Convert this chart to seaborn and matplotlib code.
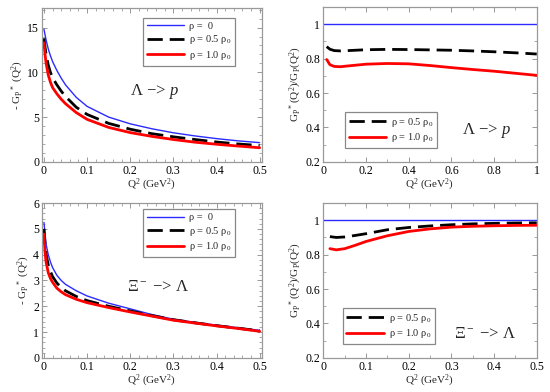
import numpy as np
import pandas as pd
import matplotlib
matplotlib.use('Agg')
import matplotlib.pyplot as plt
from matplotlib.ticker import MultipleLocator, FormatStrFormatter
import seaborn as sns

# Lambda -> p, -G_P*(Q^2)
q2_lp = [0.0, 0.0025, 0.005, 0.01, 0.015, 0.02, 0.03, 0.04, 0.05, 0.075, 0.1, 0.15, 0.2, 0.25, 0.3, 0.35, 0.4, 0.45, 0.5]
gp_lp_rho0 = [14.8, 14.2, 13.6, 12.6, 11.85, 11.2, 10.2, 9.35, 8.6, 7.2, 6.2, 5.0, 4.25, 3.7, 3.25, 2.9, 2.6, 2.35, 2.15]
gp_lp_rho05 = [13.8, 12.8, 12.0, 10.8, 10.0, 9.4, 8.6, 7.9, 7.3, 6.1, 5.3, 4.3, 3.65, 3.15, 2.8, 2.5, 2.22, 2.0, 1.83]
gp_lp_rho10 = [13.3, 12.0, 11.0, 9.7, 8.9, 8.3, 7.6, 7.0, 6.5, 5.5, 4.75, 3.85, 3.27, 2.85, 2.5, 2.2, 1.97, 1.77, 1.58]

# Xi- -> Lambda, -G_P*(Q^2)
q2_xl = [0.0, 0.0025, 0.005, 0.01, 0.015, 0.02, 0.03, 0.04, 0.05, 0.075, 0.1, 0.15, 0.2, 0.25, 0.3, 0.35, 0.4, 0.45, 0.5]
gp_xl_rho0 = [5.25, 4.8, 4.4, 4.0, 3.72, 3.5, 3.2, 3.0, 2.85, 2.6, 2.4, 2.12, 1.9, 1.68, 1.5, 1.38, 1.27, 1.17, 1.07]
gp_xl_rho05 = [5.0, 4.4, 4.0, 3.6, 3.35, 3.15, 2.9, 2.73, 2.6, 2.38, 2.22, 2.0, 1.82, 1.64, 1.48, 1.36, 1.25, 1.15, 1.05]
gp_xl_rho10 = [4.8, 4.1, 3.7, 3.3, 3.08, 2.93, 2.7, 2.56, 2.45, 2.27, 2.14, 1.95, 1.78, 1.62, 1.46, 1.35, 1.24, 1.14, 1.03]

# ratios G_P*/G_P
q2_lp_ratio = [0.015, 0.03, 0.05, 0.08, 0.1, 0.2, 0.3, 0.4, 0.5, 0.6, 0.7, 0.8, 0.9, 1.0]
ratio_lp_rho05 = [0.87, 0.855, 0.847, 0.845, 0.846, 0.852, 0.854, 0.853, 0.851, 0.849, 0.845, 0.84, 0.834, 0.827]
ratio_lp_rho10 = [0.795, 0.765, 0.755, 0.753, 0.756, 0.768, 0.772, 0.77, 0.76, 0.748, 0.737, 0.727, 0.715, 0.703]

q2_xl_ratio = [0.015, 0.03, 0.05, 0.075, 0.1, 0.15, 0.2, 0.25, 0.3, 0.35, 0.4, 0.45, 0.5]
ratio_xl_rho05 = [0.905, 0.9, 0.903, 0.912, 0.922, 0.945, 0.958, 0.967, 0.974, 0.979, 0.982, 0.984, 0.985]
ratio_xl_rho10 = [0.835, 0.828, 0.835, 0.855, 0.877, 0.91, 0.935, 0.95, 0.96, 0.965, 0.968, 0.97, 0.971]

labels = ['ρ =  0', 'ρ = 0.5 ρ$_0$', 'ρ = 1.0 ρ$_0$']
colors = ['#2b2bff', 'black', '#ff0000']
widths = [1.0, 2.0, 2.0]
styles = ['-', (0, (5.5, 2.5)), '-']

sns.set_style('ticks')
plt.rcParams['font.family'] = ['Liberation Serif', 'DejaVu Serif']
plt.rcParams['mathtext.fontset'] = 'custom'
plt.rcParams['mathtext.rm'] = 'Liberation Serif'
plt.rcParams['mathtext.it'] = 'Liberation Serif:italic'
plt.rcParams['mathtext.default'] = 'regular'

fig = plt.figure(figsize=(5.5, 3.92), dpi=100)
ax_tl = fig.add_axes([0.076, 0.587, 0.400, 0.393])
ax_tr = fig.add_axes([0.587, 0.587, 0.389, 0.395])
ax_bl = fig.add_axes([0.076, 0.087, 0.400, 0.395])
ax_br = fig.add_axes([0.587, 0.087, 0.389, 0.395])


def draw(ax, x, series, idx):
    for ys, i in zip(series, idx):
        df = pd.DataFrame({'q2': x, 'val': ys})
        sns.lineplot(data=df, x='q2', y='val', ax=ax, color=colors[i], lw=widths[i],
                     linestyle=styles[i], label=labels[i])


def style(ax, xlim, ylim, xmaj, xmin, ymaj, ymin, ylabel):
    ax.set_xlim(*xlim)
    ax.set_ylim(*ylim)
    ax.xaxis.set_major_locator(MultipleLocator(xmaj))
    ax.xaxis.set_minor_locator(MultipleLocator(xmin))
    ax.yaxis.set_major_locator(MultipleLocator(ymaj))
    ax.yaxis.set_minor_locator(MultipleLocator(ymin))
    ax.xaxis.set_major_formatter(FormatStrFormatter('%g'))
    ax.yaxis.set_major_formatter(FormatStrFormatter('%g'))
    ax.tick_params(which='both', direction='in', top=True, right=True, colors='#888888',
                   labelcolor='black', labelsize=8.5, pad=2)
    ax.tick_params(which='major', length=3.5, width=0.6)
    ax.tick_params(which='minor', length=2, width=0.5)
    for s in ax.spines.values():
        s.set_color('#999999')
        s.set_linewidth(0.9)
    ax.set_xlabel('Q$^2$ (GeV$^2$)', fontsize=8, labelpad=0)
    ax.set_ylabel(ylabel, fontsize=8, labelpad=1)


def legend(ax, loc, anchor):
    leg = ax.legend(loc=loc, bbox_to_anchor=anchor, fontsize=7.5, handlelength=3.6,
                    fancybox=False, framealpha=1, borderpad=0.35, labelspacing=0.25,
                    handletextpad=0.5, borderaxespad=0)
    leg.get_frame().set_edgecolor('#888888')
    leg.get_frame().set_linewidth(0.9)


ylab_g = '- G$_P$$^*$ (Q$^2$)'
ylab_r = 'G$_P$$^*$(Q$^2$)/G$_P$(Q$^2$)'

draw(ax_tl, q2_lp, [gp_lp_rho0, gp_lp_rho05, gp_lp_rho10], [0, 1, 2])
style(ax_tl, (-0.005, 0.505), (0, 17.2), 0.1, 0.02, 5, 1, ylab_g)
legend(ax_tl, 'upper right', (0.88, 0.935))
ax_tl.text(0.51, 0.455, r'Λ −> $\mathit{p}$', transform=ax_tl.transAxes, fontsize=12,
           ha='center', va='center')

ax_tr.axhline(1.0, color=colors[0], lw=widths[0])
draw(ax_tr, q2_lp_ratio, [ratio_lp_rho05, ratio_lp_rho10], [1, 2])
style(ax_tr, (-0.003, 1.0), (0.2, 1.1), 0.2, 0.1, 0.2, 0.1, ylab_r)
legend(ax_tr, 'lower left', (0.103, 0.09))
ax_tr.text(0.765, 0.2, r'Λ −> $\mathit{p}$', transform=ax_tr.transAxes, fontsize=12,
           ha='center', va='center')

draw(ax_bl, q2_xl, [gp_xl_rho0, gp_xl_rho05, gp_xl_rho10], [0, 1, 2])
style(ax_bl, (-0.005, 0.505), (0, 6), 0.1, 0.02, 1, 0.2, ylab_g)
legend(ax_bl, 'upper right', (0.88, 0.96))
ax_bl.text(0.53, 0.46, 'Ξ$^-$ −> Λ', transform=ax_bl.transAxes, fontsize=12,
           ha='center', va='center')

ax_br.axhline(1.0, color=colors[0], lw=widths[0])
draw(ax_br, q2_xl_ratio, [ratio_xl_rho05, ratio_xl_rho10], [1, 2])
style(ax_br, (-0.0015, 0.5), (0.2, 1.1), 0.1, 0.05, 0.2, 0.1, ylab_r)
legend(ax_br, 'lower left', (0.093, 0.09))
ax_br.text(0.757, 0.155, 'Ξ$^-$ −> Λ', transform=ax_br.transAxes, fontsize=12,
           ha='center', va='center')

fig.savefig('out.png', dpi=100)
